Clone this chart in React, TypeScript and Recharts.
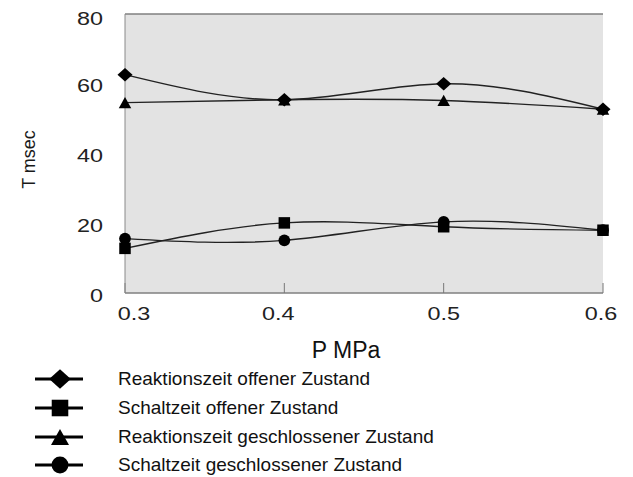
import React from 'react';
import { LineChart, Line, XAxis, YAxis, CartesianGrid, Legend, ReferenceLine } from 'recharts';

const pressure = [0.3, 0.4, 0.5, 0.6];
const reaktionOffen = [62.6, 55.4, 60.0, 52.7];
const schaltOffen = [12.8, 20.1, 19.0, 18.0];
const reaktionGeschlossen = [54.6, 55.4, 55.2, 52.7];
const schaltGeschlossen = [15.6, 15.1, 20.4, 18.0];

const xTicks = [0.3, 0.4, 0.5, 0.6];
const yTicks = [0, 20, 40, 60, 80];
const xTickLabels = ['0.3', '0.4', '0.5', '0.6'];
const yTickLabels = ['0', '20', '40', '60', '80'];

const seriesNames: Record<string, string> = {
  ro: 'Reaktionszeit offener Zustand',
  so: 'Schaltzeit offener Zustand',
  rg: 'Reaktionszeit geschlossener Zustand',
  sg: 'Schaltzeit geschlossener Zustand',
};

const data = pressure.map((p, i) => ({
  p,
  ro: reaktionOffen[i],
  so: schaltOffen[i],
  rg: reaktionGeschlossen[i],
  sg: schaltGeschlossen[i],
}));

const FONT = '"Liberation Sans", Arial, sans-serif';
const xTickDx = [9, -6, 0, -2];

type ShapeKind = 'diamond' | 'square' | 'triangle' | 'circle';

const Marker = ({ kind, cx, cy, s }: { kind: ShapeKind; cx: number; cy: number; s: number }) => {
  if (kind === 'diamond') {
    const w = s * 0.6, h = s * 0.54;
    return <path d={`M${cx},${cy - h} L${cx + w},${cy} L${cx},${cy + h} L${cx - w},${cy} Z`} fill="#000" />;
  }
  if (kind === 'square') {
    const h = s * 0.46;
    return <rect x={cx - h} y={cy - h} width={2 * h} height={2 * h} fill="#000" />;
  }
  if (kind === 'triangle') {
    const w = s * 0.5, h = s * 0.45;
    return <path d={`M${cx},${cy - h} L${cx + w},${cy + h} L${cx - w},${cy + h} Z`} fill="#000" />;
  }
  return <circle cx={cx} cy={cy} r={s * 0.47} fill="#000" />;
};

const kinds: Record<string, ShapeKind> = { ro: 'diamond', so: 'square', rg: 'triangle', sg: 'circle' };
// drawing order (later on top)
const drawOrder = ['rg', 'ro', 'sg', 'so'];
// legend order
const legendOrder = ['ro', 'so', 'rg', 'sg'];

const makeDot = (kind: ShapeKind) => (props: any) => {
  const { cx, cy, index } = props;
  if (cx == null || cy == null) return <g key={index} />;
  return <Marker key={index} kind={kind} cx={cx} cy={cy} s={12.5} />;
};

const XTick = (props: any) => {
  const { x, y, index } = props;
  return (
    <g transform={`translate(${x + (xTickDx[index] || 0)}, ${y + 27})`}>
      <text transform="scale(1.3,1)" textAnchor="middle" fontSize={18} fontFamily={FONT} fill="#222">
        {xTickLabels[index]}
      </text>
    </g>
  );
};

const YTick = (props: any) => {
  const { x, y, index } = props;
  const extra = index === yTickLabels.length - 1 ? 2 : 0;
  return (
    <g transform={`translate(${x}, ${y + 8.5 + extra})`}>
      <text transform="scale(1.3,1)" textAnchor="end" fontSize={18} fontFamily={FONT} fill="#222">
        {yTickLabels[index]}
      </text>
    </g>
  );
};

const renderXTitle = (props: any) => {
  const vb = props.viewBox || {};
  return (
    <text x={vb.x + vb.width / 2 - 18} y={vb.y + 65} textAnchor="middle" fontSize={23} fontFamily={FONT} fill="#111">
      P MPa
    </text>
  );
};

const renderYTitle = (props: any) => {
  const vb = props.viewBox || {};
  const cy = vb.y + vb.height / 2 + 6;
  return (
    <text transform={`translate(27, ${cy}) rotate(-90)`} textAnchor="middle" fontSize={18} fontFamily={FONT} fill="#1a1a1a">
      T msec
    </text>
  );
};

const renderLegend = (props: any) => {
  const payload = props.payload || [];
  return (
    <div style={{ position: 'relative', width: 617, height: 115, overflow: 'visible' }}>
      {legendOrder.map((key, i) => {
        const entry = payload.find((e: any) => e.dataKey === key);
        const label = entry ? entry.value : seriesNames[key];
        return (
          <div
            key={key}
            style={{ position: 'absolute', left: 0, top: 7 + i * 28.8, height: 20, display: 'flex', alignItems: 'center' }}
          >
            <svg width={110} height={20} style={{ display: 'block', overflow: 'visible' }}>
              <line x1={27} x2={75} y1={10} y2={10} stroke="#000" strokeWidth={3} />
              <Marker kind={kinds[key]} cx={52} cy={10} s={18} />
            </svg>
            <span style={{ fontFamily: FONT, fontSize: 19, lineHeight: '20px', color: '#111', whiteSpace: 'nowrap' }}>
              {label}
            </span>
          </div>
        );
      })}
    </div>
  );
};

export default function App() {
  return (
    <div>
      <LineChart width={617} height={469} data={data} margin={{ top: 6, right: 22, bottom: 0, left: 0 }}>
        <CartesianGrid vertical={false} fill="#e3e3e3" stroke="#6a6a6a" strokeWidth={1} />
        <XAxis
          type="number"
          dataKey="p"
          domain={[0.3, 0.6]}
          ticks={xTicks}
          height={69}
          axisLine={{ stroke: '#8a8a8a' }}
          tickLine={{ stroke: '#777' }}
          tickSize={-10}
          tickMargin={10}
          tick={<XTick />}
          interval={0}
          label={renderXTitle}
        />
        <YAxis
          yAxisId="left"
          domain={[0, 80]}
          ticks={yTicks}
          width={117}
          axisLine={{ stroke: '#8a8a8a' }}
          tickLine={false}
          tickSize={0}
          tickMargin={22}
          tick={<YTick />}
          interval={0}
          label={renderYTitle}
        />
        <YAxis
          yAxisId="right"
          orientation="right"
          domain={[0, 80]}
          width={0}
          tick={false}
          tickLine={false}
          axisLine={{ stroke: '#8a8a8a' }}
        />
        <ReferenceLine yAxisId="left" y={80} stroke="#8a8a8a" />
        {drawOrder.map((key) => (
          <Line
            key={key}
            yAxisId="left"
            type="natural"
            dataKey={key}
            name={seriesNames[key]}
            stroke="#222"
            strokeWidth={1.4}
            dot={makeDot(kinds[key])}
            activeDot={false}
            isAnimationActive={false}
          />
        ))}
        <Legend
          verticalAlign="bottom"
          align="left"
          content={renderLegend}
          wrapperStyle={{ left: 0, bottom: 0, width: 617, height: 115 }}
        />
      </LineChart>
    </div>
  );
}
